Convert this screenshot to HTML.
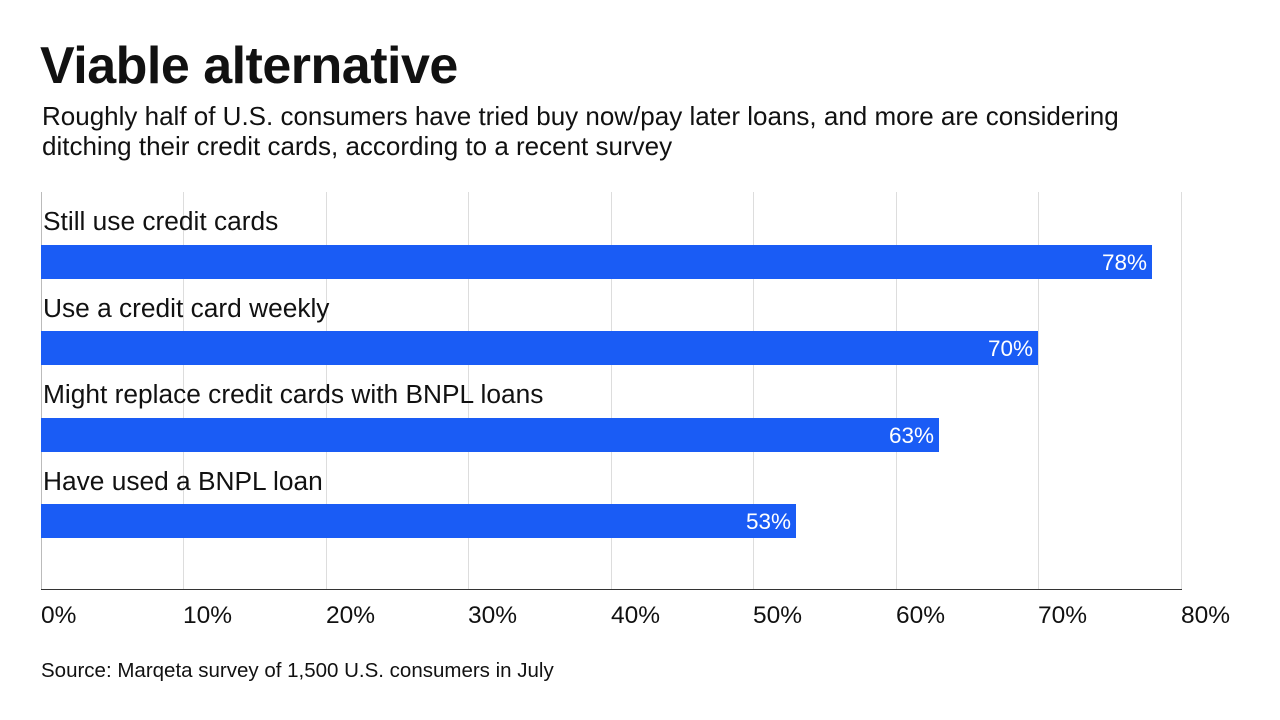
<!DOCTYPE html>
<html><head><meta charset="utf-8"><style>
body{margin:0;width:1280px;height:720px;background:#fff;position:relative;overflow:hidden;font-family:"Liberation Sans",sans-serif;color:#111}
.a{position:absolute;white-space:nowrap}
.g{position:absolute;top:192px;height:398px;width:1px;background:#ddd}
.bar{position:absolute;left:41px;height:34px;background:#1a5cf5;color:#fff;font-size:22.5px;text-align:right;box-sizing:border-box;padding-right:5px;line-height:36px}
.lab{position:absolute;left:43px;font-size:26.3px;line-height:28px}
.t{position:absolute;top:603px;font-size:24.5px;line-height:26px}
</style></head><body>
<div class="a" style="left:40px;top:36px;font-size:52px;font-weight:bold;letter-spacing:-0.5px">Viable alternative</div>
<div class="a" style="left:42px;top:101px;font-size:26px;line-height:30px">Roughly half of U.S. consumers have tried buy now/pay later loans, and more are considering<br>ditching their credit cards, according to a recent survey</div>
<div class="g" style="left:183px"></div><div class="g" style="left:326px"></div><div class="g" style="left:468px"></div><div class="g" style="left:611px"></div><div class="g" style="left:753px"></div><div class="g" style="left:896px"></div><div class="g" style="left:1038px"></div><div class="g" style="left:1181px"></div>
<div style="position:absolute;left:41px;top:192px;width:1px;height:398px;background:#bbb"></div>
<div style="position:absolute;left:41px;top:589px;width:1141px;height:1px;background:#333"></div>
<div class="lab" style="top:207px">Still use credit cards</div>
<div class="bar" style="top:245px;width:1111px">78%</div>
<div class="lab" style="top:294px">Use a credit card weekly</div>
<div class="bar" style="top:331px;width:997px">70%</div>
<div class="lab" style="top:380px">Might replace credit cards with BNPL loans</div>
<div class="bar" style="top:418px;width:898px">63%</div>
<div class="lab" style="top:467px">Have used a BNPL loan</div>
<div class="bar" style="top:504px;width:755px">53%</div>
<div class="t" style="left:41px">0%</div>
<div class="t" style="left:183px">10%</div>
<div class="t" style="left:326px">20%</div>
<div class="t" style="left:468px">30%</div>
<div class="t" style="left:611px">40%</div>
<div class="t" style="left:753px">50%</div>
<div class="t" style="left:896px">60%</div>
<div class="t" style="left:1038px">70%</div>
<div class="t" style="left:1181px">80%</div>
<div class="a" style="left:41px;top:659px;font-size:20.5px">Source: Marqeta survey of 1,500 U.S. consumers in July</div>
</body></html>
